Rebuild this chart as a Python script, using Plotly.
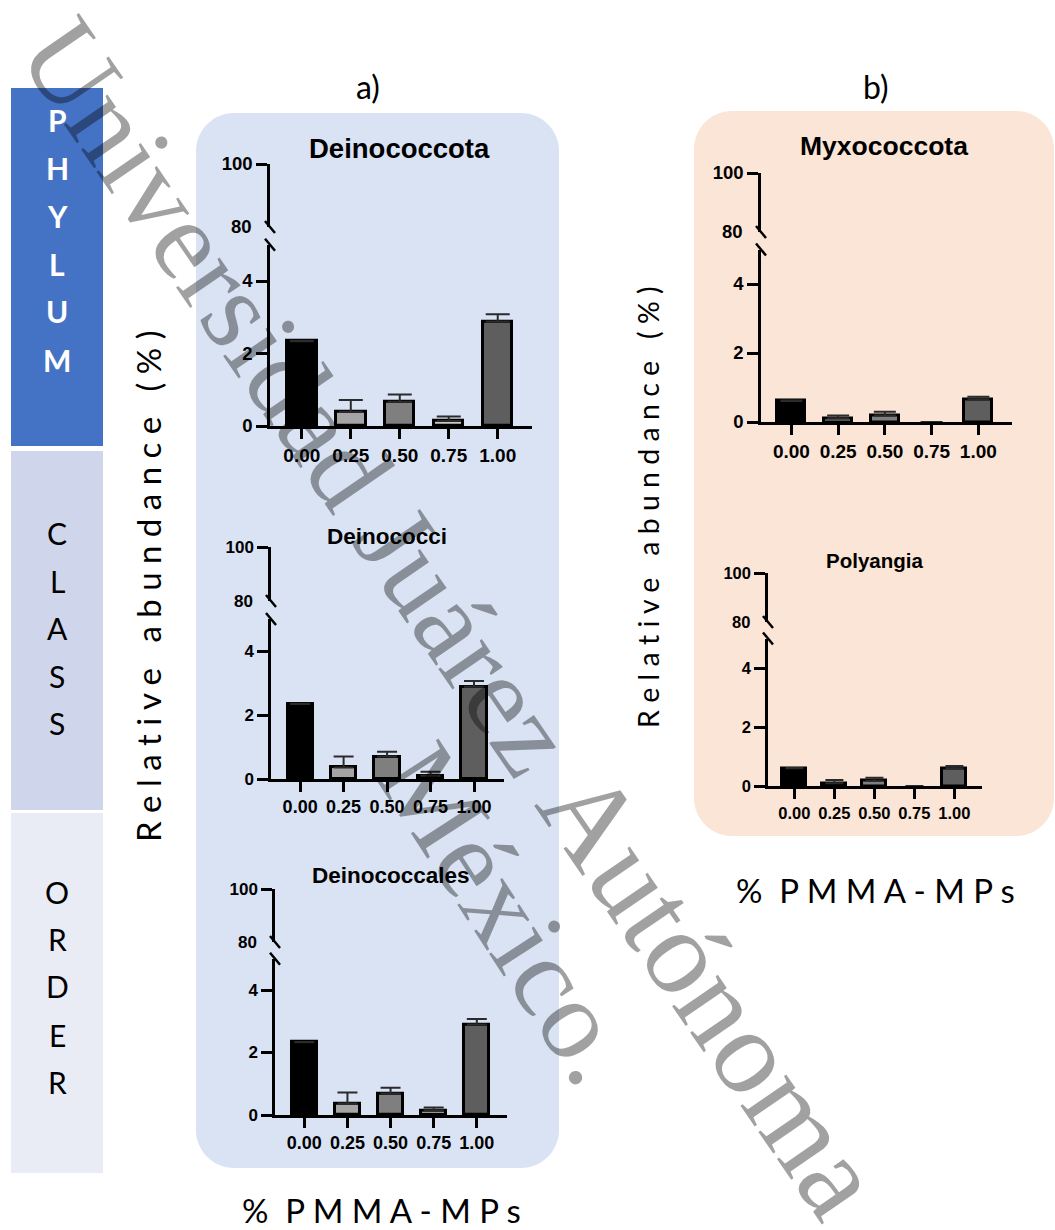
import plotly.graph_objects as go

W, H = 1055, 1230

# ---- data -------------------------------------------------------------
doses = ["0.00", "0.25", "0.50", "0.75", "1.00"]

deinococcota_mean = [2.34, 0.39, 0.67, 0.14, 2.88]
deinococcota_sd = [0.01, 0.33, 0.20, 0.12, 0.20]

deinococci_mean = [2.34, 0.36, 0.70, 0.10, 2.88]
deinococci_sd = [0.01, 0.34, 0.15, 0.13, 0.18]

deinococcales_mean = [2.33, 0.37, 0.69, 0.15, 2.90]
deinococcales_sd = [0.01, 0.35, 0.18, 0.09, 0.17]

myxococcota_mean = [0.61, 0.11, 0.19, 0.00, 0.66]
myxococcota_sd = [0.01, 0.08, 0.11, 0.00, 0.07]

polyangia_mean = [0.60, 0.09, 0.18, 0.00, 0.60]
polyangia_sd = [0.01, 0.11, 0.10, 0.00, 0.08]

lower_ticks = [0, 2, 4]
upper_ticks = [100]
break_label = 80

bar_fill = ["#000000", "#a5a5a5", "#7f7f7f", "#c9c9c9", "#5e5e5e"]


def px(x):
    return x / W


def py(y):
    return 1 - y / H


# geometry of each broken-axis panel (pixels)
panels = [
    dict(title="Deinococcota", mean=deinococcota_mean, sd=deinococcota_sd,
         ax=270, right=532, y0=426, unit=36.25, y80=227, y100=164,
         xr=[-0.65, 4.7], bw=0.6, cap=12, tf=18.5, xf=19, ttl=27.5, tx=399, ty=149),
    dict(title="Deinococci", mean=deinococci_mean, sd=deinococci_sd,
         ax=271, right=504, y0=779, unit=32.0, y80=601, y100=547,
         xr=[-0.67, 4.69], bw=0.58, cap=10, tf=17, xf=18, ttl=22.5, tx=387, ty=536),
    dict(title="Deinococcales", mean=deinococcales_mean, sd=deinococcales_sd,
         ax=275, right=507, y0=1115, unit=31.25, y80=942, y100=889,
         xr=[-0.68, 4.7], bw=0.58, cap=10, tf=17, xf=18, ttl=22.5, tx=391, ty=875),
    dict(title="Myxococcota", mean=myxococcota_mean, sd=myxococcota_sd,
         ax=761, right=1012, y0=422, unit=34.5, y80=232, y100=173,
         xr=[-0.65, 4.72], bw=0.6, cap=11, tf=18.5, xf=19, ttl=26.5, tx=884, ty=146),
    dict(title="Polyangia", mean=polyangia_mean, sd=polyangia_sd,
         ax=768, right=982, y0=786, unit=29.5, y80=622, y100=573,
         xr=[-0.66, 4.69], bw=0.6, cap=9, tf=16.5, xf=16.5, ttl=20.5, tx=874, ty=560),
]

fig = go.Figure()
layout = {}
shapes = []
annotations = []

AX_W = 2.5
BOLD = dict(family="Liberation Sans, Arial", color="black", weight="bold")


def axkey(kind, n):
    return f"{kind}axis" + ("" if n == 1 else str(n))


def axref(kind, n):
    return kind + ("" if n == 1 else str(n))


for k, p in enumerate(panels):
    xn = k + 1
    ylo = 2 * k + 1
    yhi = 2 * k + 2
    lo_top = p["y0"] - 5 * p["unit"]
    # no outline for empty bars
    outline = [3 if v > 0 else 0 for v in p["mean"]]

    fig.add_trace(go.Bar(
        x=list(range(len(doses))), y=p["mean"],
        xaxis=axref("x", xn), yaxis=axref("y", ylo),
        width=p["bw"],
        marker=dict(color=bar_fill, line=dict(color="black", width=outline)),
        error_y=dict(type="data", symmetric=False, array=p["sd"],
                     arrayminus=[0] * len(doses), color="#2b2b2b",
                     thickness=2, width=p["cap"]),
        showlegend=False, hoverinfo="skip",
    ))

    layout[axkey("x", xn)] = dict(
        domain=[px(p["ax"]), px(p["right"])], anchor=axref("y", ylo),
        range=p["xr"], tickvals=list(range(len(doses))), ticktext=doses,
        showline=True, linecolor="black", linewidth=AX_W,
        ticks="outside", ticklen=10, tickwidth=AX_W, tickcolor="black",
        showgrid=False, zeroline=False, fixedrange=True, automargin=False,
        tickfont=dict(size=p["xf"], **BOLD),
    )
    layout[axkey("y", ylo)] = dict(
        domain=[py(p["y0"]), py(lo_top)], anchor=axref("x", xn),
        range=[0, 5], tickvals=lower_ticks,
        showline=True, linecolor="black", linewidth=AX_W,
        ticks="outside", ticklen=11, tickwidth=AX_W, tickcolor="black",
        showgrid=False, zeroline=False, fixedrange=True, automargin=False,
        tickfont=dict(size=p["tf"], **BOLD),
    )
    layout[axkey("y", yhi)] = dict(
        domain=[py(p["y80"]), py(p["y100"])], anchor=axref("x", xn),
        range=[80, 100], tickvals=upper_ticks,
        showline=True, linecolor="black", linewidth=AX_W,
        ticks="outside", ticklen=11, tickwidth=AX_W, tickcolor="black",
        showgrid=False, zeroline=False, fixedrange=True, automargin=False,
        tickfont=dict(size=p["tf"], **BOLD),
    )

    # "80" label sitting at the break
    annotations.append(dict(
        x=px(p["ax"] - 16), xref="paper", y=break_label, yref=axref("y", yhi),
        text=str(break_label), showarrow=False, xanchor="right", yanchor="middle",
        font=dict(size=p["tf"], **BOLD),
    ))

    # axis-break slashes
    for cy in (p["y80"], lo_top):
        shapes.append(dict(
            type="line", xref="paper", yref="paper",
            x0=px(p["ax"] - 5), y0=py(cy - 6), x1=px(p["ax"] + 5), y1=py(cy + 6),
            line=dict(color="black", width=AX_W),
        ))

    annotations.append(dict(
        x=px(p["tx"]), y=py(p["ty"]), xref="paper", yref="paper",
        text=p["title"], showarrow=False, xanchor="center", yanchor="middle",
        font=dict(size=p["ttl"], **BOLD),
    ))


def rounded_rect(x0, y0, x1, y1, r, color):
    k = 0.5523 * r
    pts = [
        f"M {px(x0 + r)},{py(y0)}",
        f"L {px(x1 - r)},{py(y0)}",
        f"C {px(x1 - r + k)},{py(y0)} {px(x1)},{py(y0 + r - k)} {px(x1)},{py(y0 + r)}",
        f"L {px(x1)},{py(y1 - r)}",
        f"C {px(x1)},{py(y1 - r + k)} {px(x1 - r + k)},{py(y1)} {px(x1 - r)},{py(y1)}",
        f"L {px(x0 + r)},{py(y1)}",
        f"C {px(x0 + r - k)},{py(y1)} {px(x0)},{py(y1 - r + k)} {px(x0)},{py(y1 - r)}",
        f"L {px(x0)},{py(y0 + r)}",
        f"C {px(x0)},{py(y0 + r - k)} {px(x0 + r - k)},{py(y0)} {px(x0 + r)},{py(y0)}",
        "Z",
    ]
    return dict(type="path", xref="paper", yref="paper", path=" ".join(pts),
                fillcolor=color, line=dict(width=0), layer="below")


# panel backgrounds
shapes.insert(0, rounded_rect(196, 113, 559, 1168, 38, "#dae3f3"))
shapes.insert(0, rounded_rect(694, 111, 1054, 836, 38, "#fbe5d6"))

# taxonomic rank boxes
rank_boxes = [
    ("PHYLUM", 88, 446, "#4472c4", "white", "bold",
     [120, 168, 216, 264, 311, 360]),
    ("CLASS", 451, 810, "#cfd5ea", "black", "normal",
     [533, 581, 628, 676, 723]),
    ("ORDER", 813, 1173, "#e9ebf5", "black", "normal",
     [892, 939, 986, 1035, 1082]),
]
for name, top, bottom, fill, fc, wt, ys in rank_boxes:
    shapes.insert(0, dict(type="rect", xref="paper", yref="paper",
                          x0=px(11), x1=px(103), y0=py(top), y1=py(bottom),
                          fillcolor=fill, line=dict(width=0), layer="below"))
    for ch, yy in zip(name, ys):
        annotations.append(dict(
            x=px(57), y=py(yy), xref="paper", yref="paper", text=ch,
            showarrow=False, xanchor="center", yanchor="middle",
            font=dict(family="Lato, Carlito, sans-serif", size=30, color=fc, weight=wt),
        ))

LABEL_FONT = dict(family="Lato, Carlito, sans-serif", color="black")

for txt, x, y in [("a)", 368, 87), ("b)", 876, 86)]:
    annotations.append(dict(x=px(x), y=py(y), xref="paper", yref="paper", text=txt,
                            showarrow=False, xanchor="center", yanchor="middle",
                            font=dict(size=32, **LABEL_FONT)))

ylabel = "R e l a t i v e   a b u n d a n c e   ( % )"
for x, y, size in [(148, 587, 33), (648, 507, 28.5)]:
    annotations.append(dict(x=px(x), y=py(y), xref="paper", yref="paper", text=ylabel,
                            textangle=-90, showarrow=False, xanchor="center",
                            yanchor="middle", font=dict(size=size, **LABEL_FONT)))

xlabel = "%  P M M A - M P s"
for x, y in [(381, 1210), (875, 890)]:
    annotations.append(dict(x=px(x), y=py(y), xref="paper", yref="paper", text=xlabel,
                            showarrow=False, xanchor="center", yanchor="middle",
                            font=dict(size=33, **LABEL_FONT)))

# diagonal institutional watermark (two lines, the first set in two pieces)
WM_FAMILY = "Liberation Serif, Times New Roman, serif"
WM_COLOR = "rgba(0,0,0,0.37)"
for txt, x, y, size, ang in [("Universidad Juárez", 298, 396, 115, 55.5),
                             ("Autónoma de Tabasco.", 881, 1238, 121, 55.5),
                             ("México.", 509, 913, 114, 57)]:
    annotations.append(dict(x=px(x), y=py(y), xref="paper", yref="paper", text=txt,
                            textangle=ang, showarrow=False, xanchor="center",
                            yanchor="middle",
                            font=dict(family=WM_FAMILY, size=size, color=WM_COLOR)))

fig.update_layout(
    width=W, height=H,
    margin=dict(l=0, r=0, t=0, b=0, pad=0, autoexpand=False),
    paper_bgcolor="white", plot_bgcolor="rgba(0,0,0,0)",
    bargap=0, shapes=shapes, annotations=annotations, **layout,
)

fig.write_html("out.html")
